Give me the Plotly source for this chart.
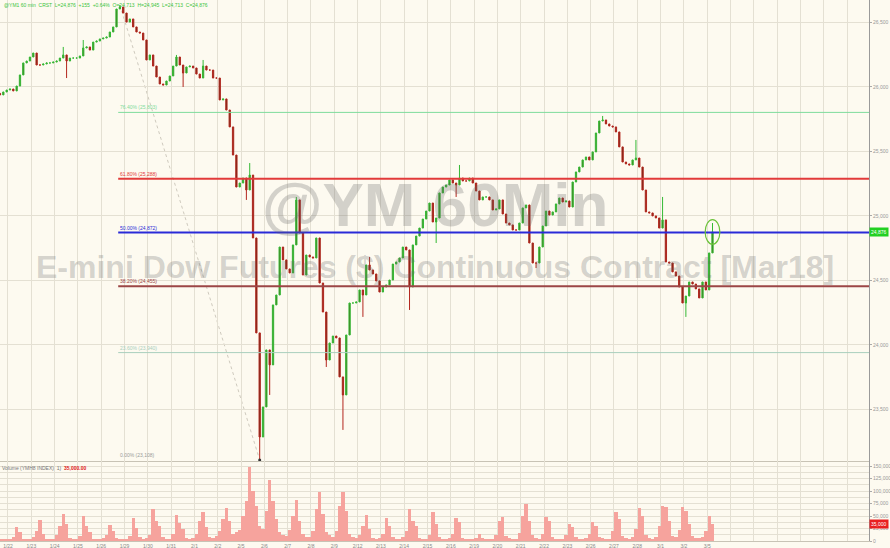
import plotly.graph_objects as go
from plotly.subplots import make_subplots

# hourly-ish closes of the YM Mar18 contract
closes = [
    25938, 25961, 25976, 25984, 25969, 26007, 26093, 26186, 26201, 26232,
    26263, 26170, 26170, 26178, 26186, 26186, 26193, 26201, 26224, 26248,
    26201, 26224, 26224, 26224, 26240, 26302, 26310, 26286, 26348, 26356,
    26372, 26379, 26387, 26426, 26465, 26604, 26620, 26573, 26503, 26527,
    26465, 26426, 26418, 26364, 26209, 26248, 26162, 26077, 26023, 26015,
    26046, 26085, 26162, 26232, 26170, 26108, 26155, 26162, 26147, 26100,
    26069, 26162, 26131, 26131, 26069, 26069, 25899, 25907, 25821, 25690,
    25472, 25224, 25255, 25294, 25201, 25317, 24829, 24093, 23286, 23519,
    23961, 23845, 24310, 24387, 24759, 24659, 24589, 24558, 24775, 25124,
    24868, 24542, 24697, 24682, 24674, 24829, 24480, 24255, 23883, 24015,
    24069, 24054, 23752, 23612, 24077, 24325, 24325, 24333, 24426, 24387,
    24620, 24581, 24550, 24496, 24410, 24449, 24465, 24503, 24627, 24643,
    24674, 24759, 24736, 24449, 24775, 24844, 24906, 24976, 25038, 25100,
    24953, 24984, 25178, 25224, 25240, 25279, 25255, 25240, 25294, 25271,
    25271, 25294, 25255, 25193, 25124, 25147, 25147, 25124, 25046, 25054,
    25124, 25015, 24945, 24930, 24891, 24891, 24945, 25062, 25085, 24790,
    24635, 24635, 24759, 24922, 25038, 25007, 25031, 25093, 25139, 25108,
    25116, 25069, 25263, 25341, 25379, 25434, 25457, 25434, 25496, 25643,
    25736, 25744, 25713, 25697, 25690, 25651, 25535, 25418, 25403, 25395,
    25434, 25449, 25379, 25201, 25031, 25023, 25000, 24984, 24906, 24969,
    24643, 24635, 24566, 24534, 24449, 24325, 24379, 24488, 24472, 24434,
    24364, 24488, 24426, 24713, 24876,
]
first_open = 25950

# long wicks visible on the chart (bar index -> price)
wick_highs = {19: 26310, 25: 26364, 36: 26635, 53: 26248, 61: 26209, 75: 25410,
              89: 25147, 111: 24682, 138: 25395, 181: 25775, 191: 25589,
              199: 25147, 214: 24945}
wick_lows = {20: 26069, 55: 26000, 74: 25124, 78: 23108, 81: 23612, 98: 23829,
             103: 23341, 109: 24217, 123: 24271, 131: 24790, 137: 25147,
             161: 24596, 206: 24217}

volumes = [
    4000, 3000, 5000, 3000, 9000, 28000, 18000, 5000, 3000, 4000,
    9000, 20000, 42000, 14000, 4000, 3000, 5000, 12000, 30000, 54000,
    34000, 6000, 4000, 3000, 11000, 50000, 30000, 18000, 5000, 4000,
    3000, 6000, 12000, 32000, 20000, 6000, 4000, 5000, 4000, 10000,
    46000, 26000, 8000, 5000, 6000, 12000, 64000, 40000, 30000, 8000,
    5000, 4000, 14000, 52000, 36000, 24000, 7000, 5000, 6000, 15000,
    40000, 58000, 28000, 8000, 6000, 10000, 20000, 45000, 66000, 40000,
    14000, 18000, 22000, 50000, 80000, 148000, 100000, 70000, 30000, 25000,
    60000, 122000, 80000, 45000, 18000, 12000, 10000, 22000, 50000, 82000,
    40000, 14000, 9000, 8000, 20000, 65000, 98000, 55000, 18000, 12000,
    9000, 20000, 70000, 98000, 60000, 15000, 8000, 6000, 12000, 30000,
    52000, 25000, 7000, 5000, 6000, 14000, 46000, 30000, 8000, 5000,
    4000, 9000, 20000, 64000, 40000, 30000, 7000, 5000, 4000, 12000,
    58000, 35000, 8000, 5000, 4000, 6000, 14000, 46000, 38000, 6000,
    4000, 3000, 4000, 6000, 14000, 6000, 4000, 5000, 4000, 12000,
    40000, 48000, 10000, 6000, 4000, 5000, 16000, 50000, 74000, 40000,
    12000, 6000, 5000, 14000, 48000, 40000, 9000, 5000, 4000, 5000,
    12000, 34000, 28000, 8000, 5000, 4000, 6000, 14000, 38000, 30000,
    8000, 6000, 5000, 4000, 20000, 58000, 45000, 10000, 6000, 5000,
    8000, 24000, 66000, 50000, 12000, 6000, 5000, 8000, 30000, 70000,
    68000, 40000, 10000, 8000, 22000, 68000, 60000, 35000, 10000, 7000,
    6000, 8000, 20000, 50000, 35000,
]

session_labels = [
    "1/22", "1/23", "1/24", "1/25", "1/26", "1/29", "1/30", "1/31", "2/1", "2/2",
    "2/5", "2/6", "2/7", "2/8", "2/9", "2/12", "2/13", "2/14", "2/15", "2/16",
    "2/19", "2/20", "2/21", "2/22", "2/23", "2/26", "2/27", "2/28", "3/1", "3/2",
    "3/5",
]

fib_ratios = [0.0, 0.236, 0.382, 0.5, 0.618, 0.764]
fib_colors = ["#9a9a9a", "#a9cfbd", "#9c4646", "#2a2ad8", "#e23a3a", "#7fdc9c"]
fib_widths = [0, 1, 2, 2, 2, 1]

BG = "#fdfaf0"
GRID = "#e4e0d3"
BARS_PER_SESSION = 7
FIRST_SESSION = 2.4

n = len(closes)
idx = list(range(n))
opens = [first_open] + closes[:-1]
highs = [max(o, c, wick_highs.get(i, c)) for i, (o, c) in enumerate(zip(opens, closes))]
lows = [min(o, c, wick_lows.get(i, c)) for i, (o, c) in enumerate(zip(opens, closes))]

fig = make_subplots(rows=2, cols=1, shared_xaxes=True, vertical_spacing=0,
                    row_heights=[461, 80])

fig.add_trace(go.Candlestick(
    x=idx, open=opens, high=highs, low=lows, close=closes,
    increasing=dict(line=dict(color="#35b935", width=1), fillcolor="#4b6219"),
    decreasing=dict(line=dict(color="#b3261e", width=1), fillcolor="#5a2a12"),
    whiskerwidth=0, showlegend=False, hoverinfo="skip",
), row=1, col=1)

fig.add_trace(go.Bar(
    x=idx, y=volumes, marker=dict(color="#f6a39d", line=dict(width=0)),
    showlegend=False, hoverinfo="skip",
), row=2, col=1)

# fibonacci retracement from the Jan high to the Feb low
hi_i = highs.index(max(highs))
lo_i = lows.index(min(lows))
hi, lo = highs[hi_i], lows[lo_i]
x_end = 261
for r, col, w in zip(fib_ratios, fib_colors, fib_widths):
    lvl = lo + r * (hi - lo)
    if w:
        fig.add_shape(type="line", xref="x", yref="y", x0=hi_i - 0.5, x1=x_end,
                      y0=lvl, y1=lvl, line=dict(color=col, width=w))
    fig.add_annotation(xref="x", yref="y", x=hi_i - 0.5, y=lvl, xanchor="left",
                       yanchor="bottom", text=f"{r * 100:.2f}% ({lvl:,.0f})",
                       showarrow=False, font=dict(size=5, color=col))

fig.add_shape(type="line", xref="x", yref="y", x0=hi_i, y0=hi, x1=lo_i, y1=lo,
              line=dict(color="#cfcabe", width=1, dash="dot"), layer="below")
fig.add_trace(go.Scatter(x=[lo_i], y=[lo], mode="markers", showlegend=False,
                         hoverinfo="skip", marker=dict(size=3, color="#333")),
              row=1, col=1)

# circle around the last bar
last = closes[-1]
fig.add_shape(type="circle", xref="x", yref="y", x0=n - 1 - 2.2, x1=n - 1 + 2.2,
              y0=last - 95, y1=last + 95, line=dict(color="#6cc23a", width=1.2))

# watermark
fig.add_annotation(xref="paper", yref="paper", x=0.500, y=0.622, text="<b>@YM 60Min</b>",
                   showarrow=False, font=dict(family="Liberation Sans", size=62,
                                              color="rgba(100,100,100,0.27)"))
fig.add_annotation(xref="paper", yref="paper", x=0.500, y=0.506,
                   text="<b>E-mini Dow Futures ($) Continuous Contract [Mar18]</b>",
                   showarrow=False, font=dict(family="Liberation Sans", size=32,
                                              color="rgba(100,100,100,0.27)"))

# header and right-axis value tags
fig.add_annotation(xref="paper", yref="paper", x=0.002, y=1, xanchor="left", yanchor="top",
                   text=f"@YM1 60 min  CRST  L={last:,}  +155  +0.64%  O={opens[-1]:,}  "
                        f"H={highs[-1]:,}  L={lows[-1]:,}  C={last:,}",
                   showarrow=False, font=dict(size=5, color="#3cc43c"))
fig.add_annotation(xref="paper", yref="y", x=1.0, y=last, xanchor="left",
                   text=f"{last:,}", showarrow=False, bgcolor="#22d022",
                   font=dict(size=5, color="white"), borderpad=1)
fig.add_annotation(xref="paper", yref="y2 domain", x=0.0, y=0.98, xanchor="left",
                   yanchor="top",
                   text=f"Volume (YMH8 INDEX)  1)  <b><span style='color:#e02020'>"
                        f"{volumes[-1]:,.2f}</span></b>",
                   showarrow=False, font=dict(size=5, color="#777"))
fig.add_annotation(xref="paper", yref="y2", x=1.0, y=volumes[-1], xanchor="left",
                   text=f"{volumes[-1]:,}", showarrow=False, bgcolor="#e82020",
                   font=dict(size=5, color="white"), borderpad=1)

tickvals = [FIRST_SESSION + BARS_PER_SESSION * k for k in range(37)]
ticktext = session_labels + [""] * (37 - len(session_labels))

fig.update_xaxes(range=[0, x_end], tickvals=tickvals, ticktext=ticktext,
                 showgrid=True, gridcolor=GRID, gridwidth=1, zeroline=False,
                 rangeslider_visible=False, showline=True, linecolor="#c8c3b5",
                 tickfont=dict(size=5, color="#888"), ticks="", automargin=False)
fig.update_xaxes(showticklabels=False, row=1, col=1)

fig.update_yaxes(side="right", showline=True, linecolor="#9a9a9a", linewidth=1,
                 gridcolor=GRID, zeroline=False, ticks="outside", ticklen=2,
                 tickcolor="#aaa", tickfont=dict(size=5, color="#999"), tickformat=",",
                 automargin=False)
fig.update_yaxes(range=[23100, 26674], dtick=500, tick0=0, row=1, col=1)
fig.update_yaxes(range=[0, 160000], dtick=25000, tick0=0,
                 minor=dict(dtick=12500, showgrid=True, gridcolor=GRID), row=2, col=1)

fig.update_layout(
    width=890, height=548,
    margin=dict(l=0, r=21, t=0, b=7, autoexpand=False),
    paper_bgcolor=BG, plot_bgcolor=BG,
    bargap=0, boxgap=0.45,
    font=dict(family="Liberation Sans"),
)

# drop the page's default 8px body margin so the chart sits at the window corner
fig.write_html("out.html", config={"displayModeBar": False}, post_script=(
    "document.body.style.margin='0';"
    f"document.body.style.background='{BG}';"
    "document.body.style.overflow='hidden';"
))
